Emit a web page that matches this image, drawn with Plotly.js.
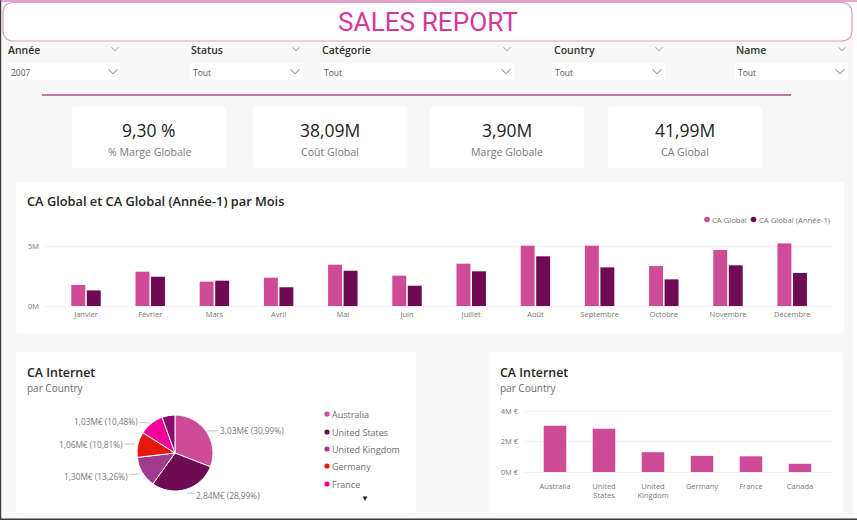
<!DOCTYPE html>
<html><head><meta charset="utf-8">
<script src="https://cdn.plot.ly/plotly-3.0.1.min.js"></script>
<style>html,body{margin:0;padding:0;background:#fff}#c{width:857px;height:520px}</style>
</head><body><div id="c"></div>
<script>
const months = ['Janvier','Février','Mars','Avril','Mai','Juin','Juillet','Août','Septembre','Octobre','Novembre','Décembre'];
const caGlobal = [1.75,2.86,2.03,2.36,3.44,2.53,3.53,5.03,5.03,3.33,4.67,5.22];
const caPrev = [1.30,2.44,2.11,1.56,2.94,1.69,2.89,4.14,3.22,2.22,3.39,2.75];
const countries = ['Australia','United States','United Kingdom','Germany','France','Canada'];
const countryTicks = ['Australia','United<br>States','United<br>Kingdom','Germany','France','Canada'];
const caInternet = [3.03,2.84,1.30,1.06,1.03,0.54];
const caPct = ['30,99','28,99','13,26','10,81','10,48','5,47'];
const pieColors = ['#CE4B97','#6F0A55','#A23B8E','#E8170E','#F2009A','#8B0A6E'];
const kpiValues = ['9,30 %','38,09M','3,90M','41,99M'];
const kpiLabels = ['% Marge Globale','Coût Global','Marge Globale','CA Global'];
const filterNames = ['Année','Status','Catégorie','Country','Name'];
const filterValues = ['2007','Tout','Tout','Tout','Tout'];

const W=857,H=520,FONT='"Open Sans", sans-serif';
const px=x=>x/W, py=y=>1-y/H;
function rrect(x0,y0,x1,y1,r,fill,line,lw){
  const p=(x,y)=>px(x)+','+py(y);
  return {type:'path',xref:'paper',yref:'paper',layer:'below',
    path:`M${p(x0+r,y0)} L${p(x1-r,y0)} Q${p(x1,y0)} ${p(x1,y0+r)} L${p(x1,y1-r)} Q${p(x1,y1)} ${p(x1-r,y1)} L${p(x0+r,y1)} Q${p(x0,y1)} ${p(x0,y1-r)} L${p(x0,y0+r)} Q${p(x0,y0)} ${p(x0+r,y0)} Z`,
    fillcolor:fill,line:{color:line||fill,width:lw===undefined?0:lw}};
}
function chevron(x,y,w,h,c){
  const p=(a,b)=>px(a)+','+py(b);
  return {type:'path',xref:'paper',yref:'paper',path:`M${p(x-w,y-h)} L${p(x,y+h)} L${p(x+w,y-h)}`,line:{color:c,width:1}};
}
function dot(x,y,r,c){return {type:'circle',xref:'paper',yref:'paper',x0:px(x-r),x1:px(x+r),y0:py(y+r),y1:py(y-r),fillcolor:c,line:{width:0}};}
function band(x0,y0,x1,y1,c){return {type:'rect',xref:'paper',yref:'paper',layer:'below',x0:px(x0),x1:px(x1),y0:py(y1),y1:py(y0),fillcolor:c,line:{width:0}};}
function txt(x,y,t,size,color,anchor,weight){
  return {xref:'paper',yref:'paper',x:px(x),y:py(y),text:t,showarrow:false,xanchor:anchor||'left',yanchor:'middle',
    font:{family:FONT,size:size,color:color,weight:weight||400},borderpad:0,borderwidth:0};
}

const shapes=[], annotations=[];
// page frame
shapes.push(band(0,0,857,520,'#F8F8F8'));
shapes.push(band(853,0,857,520,'#FFFFFF'));
shapes.push(band(0,0,1.2,520,'#3A3A3A'));
shapes.push(band(0,518.5,857,520,'#3A3A3A'));
shapes.push(rrect(3,2.5,852,41,11,'#FFFFFF','#D9A0C4',1.2));
shapes.push({type:'line',xref:'paper',yref:'paper',x0:0,x1:1,y0:py(1),y1:py(1),line:{color:'#C9569F',width:1}});
annotations.push(txt(427.5,22,'SALES REPORT',26.2,'#D6389A','center',400));
annotations[0].font.family='Roboto, sans-serif';

// filters
const boxes=[[8,120],[190,302],[321,514],[552,665],[735,848]];
const labelX=[8,191,322,554,736], headChev=[115,296,507,659,842], boxChev=[113,295,506,657,840];
filterNames.forEach((n,i)=>{
  shapes.push(rrect(boxes[i][0],63,boxes[i][1],80,1,'#FFFFFF'));
  annotations.push(txt(labelX[i],50.5,n,10.5,'#333333','left',600));
  annotations.push(txt(boxes[i][0]+3,72.5,filterValues[i],8.5,'#555555'));
  shapes.push(chevron(headChev[i],49,3.5,1.8,'#999999'));
  shapes.push(chevron(boxChev[i],71.5,4.5,2.2,'#777777'));
});
shapes.push({type:'line',xref:'paper',yref:'paper',x0:px(42),x1:px(791),y0:py(95),y1:py(95),line:{color:'#B8488F',width:1.6}});

// KPI cards
[[72,226],[253,407],[430,584],[608,762]].forEach((c,i)=>{
  shapes.push(rrect(c[0],107,c[1],168,3,'#FFFFFF'));
  annotations.push(txt((c[0]+c[1])/2,129.5,kpiValues[i],17.5,'#1E1E1E','center',500));
  annotations.push(txt((c[0]+c[1])/2,152,kpiLabels[i],10.6,'#7A7A7A','center'));
});

// chart cards
shapes.push(rrect(16,182,844,333,3,'#FFFFFF'));
shapes.push(rrect(16,352,416,513,3,'#FFFFFF'));
shapes.push(rrect(489,352,843,513,3,'#FFFFFF'));
annotations.push(txt(27,201,'CA Global et CA Global (Année-1) par Mois',12.8,'#252423','left',600));
annotations.push(txt(27,372,'CA Internet',12.4,'#252423','left',600));
annotations.push(txt(27,388,'par Country',10,'#6B6B6B'));
annotations.push(txt(500,372,'CA Internet',12.4,'#252423','left',600));
annotations.push(txt(500,388,'par Country',10,'#6B6B6B'));

// main legend
shapes.push(dot(707,219.5,2.8,pieColors[0]));
annotations.push(txt(712,219.5,'CA Global',7.7,'#777777'));
shapes.push(dot(753.5,219.5,2.8,pieColors[1]));
annotations.push(txt(759,219.5,'CA Global (Année-1)',7.7,'#777777'));

// pie legend
[414,432,449,466,484].forEach((y,i)=>{
  shapes.push(dot(327,y,2.6,pieColors[i]));
  annotations.push(txt(332,y+0.5,countries[i],9,'#6E6E6E'));
});
annotations.push(txt(364.5,497,'▼',8,'#222222','center'));

// pie labels with leader lines
const fmtM=v=>v.toFixed(2).replace('.',',')+'M€';
const leaderTip=[[207,431],[187,493],[140,474],[135,444],[150,423]];
const labelPos=[[252,430],[228,495],[96,476],[91,444],[106,421]];
caInternet.slice(0,5).forEach((v,i)=>{
  annotations.push({xref:'paper',yref:'paper',x:px(leaderTip[i][0]),y:py(leaderTip[i][1]),
    ax:labelPos[i][0]-leaderTip[i][0],ay:labelPos[i][1]-leaderTip[i][1],
    text:fmtM(v)+' ('+caPct[i]+'%)',showarrow:true,arrowhead:0,arrowwidth:1,arrowcolor:'#C4C4C4',standoff:0,
    font:{family:FONT,size:8.3,color:'#7A7A7A'}});
});

const axisFont={family:FONT,size:7.5,color:'#777777'};
const data=[
 {type:'bar',name:'CA Global',x:months,y:caGlobal,marker:{color:pieColors[0]},xaxis:'x',yaxis:'y',showlegend:false},
 {type:'bar',name:'CA Global (Année-1)',x:months,y:caPrev,marker:{color:pieColors[1]},xaxis:'x',yaxis:'y',showlegend:false},
 {type:'bar',name:'CA Internet',x:countryTicks,y:caInternet,marker:{color:'#CE4B97'},xaxis:'x2',yaxis:'y2',width:0.46,showlegend:false},
 {type:'pie',labels:countries,values:caInternet,sort:false,direction:'clockwise',rotation:0,
  marker:{colors:pieColors,line:{color:'#FFFFFF',width:1}},textinfo:'none',showlegend:false,
  domain:{x:[px(175-38),px(175+38)],y:[py(453+38),py(453-38)]}}
];
const layout={
 width:W,height:H,margin:{l:0,r:0,t:0,b:0},paper_bgcolor:'#F8F8F8',plot_bgcolor:'rgba(0,0,0,0)',
 font:{family:FONT},showlegend:false,barmode:'group',bargap:0.517,bargroupgap:0.1,
 shapes,annotations,
 xaxis:{domain:[px(45),px(832)],range:[-0.639,11.62],anchor:'y',tickfont:axisFont,showgrid:false,zeroline:false,showline:false,ticks:'',ticklabelstandoff:2,fixedrange:true,type:'category',tickangle:0},
 yaxis:{domain:[py(306),py(240)],range:[0,66/12],anchor:'x',tickvals:[0,5],ticktext:['0M','5M'],tickfont:axisFont,gridcolor:'#F2F2F2',gridwidth:1,zeroline:true,zerolinecolor:'#F2F2F2',zerolinewidth:1,showline:false,ticks:'',ticklabelstandoff:5,fixedrange:true},
 xaxis2:{domain:[px(525),px(832)],range:[-0.612,5.653],anchor:'y2',tickfont:axisFont,showgrid:false,zeroline:false,showline:false,ticks:'',ticklabelstandoff:8,fixedrange:true,type:'category',tickangle:0},
 yaxis2:{domain:[py(472),py(405)],range:[0,67/15.25],anchor:'x2',tickvals:[0,2,4],ticktext:['0M €','2M €','4M €'],tickfont:axisFont,gridcolor:'#F2F2F2',gridwidth:1,zeroline:true,zerolinecolor:'#F2F2F2',zerolinewidth:1,showline:false,ticks:'',ticklabelstandoff:6,fixedrange:true}
};
Plotly.newPlot('c',data,layout,{displayModeBar:false,staticPlot:true});
</script></body></html>
